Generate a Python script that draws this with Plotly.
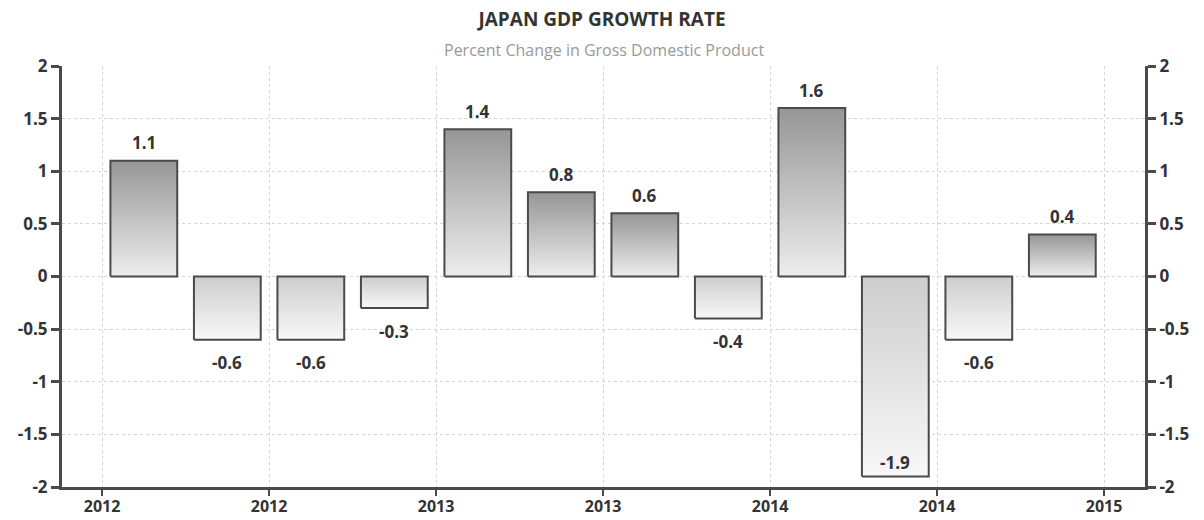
import plotly.graph_objects as go

# Quarterly GDP growth, percent change
growth = [1.1, -0.6, -0.6, -0.3, 1.4, 0.8, 0.6, -0.4, 1.6, -1.9, -0.6, 0.4]
year_ticks = ["2012", "2012", "2013", "2013", "2014", "2014", "2015"]
tick_positions = [-0.5, 1.5, 3.5, 5.5, 7.5, 9.5, 11.5]

BAR_WIDTH = 0.8
OUTLINE = "#4a4a4a"
TEXT = "#333333"
FONT = "Open Sans"

fig = go.Figure()

for i, v in enumerate(growth):
    x0, x1 = i - BAR_WIDTH / 2, i + BAR_WIDTH / 2
    lo, hi = min(0, v), max(0, v)
    if v >= 0:
        scale = [[0, "#ededed"], [1, "#969696"]]
    else:
        scale = [[0, "#f8f8f8"], [1, "#cdcdcd"]]
    fig.add_trace(go.Scatter(
        x=[x0, x1, x1, x0, x0],
        y=[lo, lo, hi, hi, lo],
        mode="lines",
        fill="toself",
        fillgradient=dict(type="vertical", colorscale=scale, start=lo, stop=hi),
        line=dict(color=OUTLINE, width=2),
        hoverinfo="skip",
        showlegend=False,
    ))
    # value label: above positive bars, below negative ones, inside if no room
    if v >= 0:
        shift = 18
    elif v < -1.7:
        shift = 14
    else:
        shift = -23
    fig.add_annotation(
        x=i, y=v, text=f"{v:g}", showarrow=False, yshift=shift,
        font=dict(family=FONT, size=17, color=TEXT, weight="bold"),
    )

# invisible trace to attach the mirrored right-hand axis
fig.add_trace(go.Scatter(x=[0], y=[0], yaxis="y2", mode="markers",
                         marker=dict(opacity=0), hoverinfo="skip", showlegend=False))

yaxis_common = dict(
    range=[-2, 2],
    tickvals=[-2, -1.5, -1, -0.5, 0, 0.5, 1, 1.5, 2],
    ticktext=["-2", "-1.5", "-1", "-0.5", "0", "0.5", "1", "1.5", "2"],
    ticks="outside", ticklen=8, tickwidth=3, tickcolor=OUTLINE,
    showline=True, linecolor=OUTLINE, linewidth=3,
    tickfont=dict(family=FONT, size=17, color=TEXT, weight="bold"),
    zeroline=False, automargin=False,
)

fig.update_layout(
    width=1204, height=520,
    margin=dict(l=62, r=59, t=66, b=33, autoexpand=False),
    paper_bgcolor="white", plot_bgcolor="white",
    title=dict(
        text="JAPAN GDP GROWTH RATE",
        x=0.5, xanchor="center", y=0.962, yanchor="middle",
        font=dict(family=FONT, size=19, color=TEXT, weight="bold"),
    ),
    xaxis=dict(
        range=[-0.98, 11.99],
        tickvals=tick_positions, ticktext=year_ticks,
        ticks="outside", ticklen=6, tickwidth=2, tickcolor=OUTLINE,
        ticklabelstandoff=-3,
        showline=True, linecolor=OUTLINE, linewidth=3,
        showgrid=True, gridcolor="#d4d4d4", griddash="dot", gridwidth=1,
        tickfont=dict(family=FONT, size=16, color=TEXT, weight="bold"),
        zeroline=False, automargin=False,
    ),
    yaxis=dict(showgrid=True, gridcolor="#d4d4d4", griddash="dot", gridwidth=1,
               **yaxis_common),
    yaxis2=dict(overlaying="y", side="right", showgrid=False, **yaxis_common),
)

fig.add_annotation(
    text="Percent Change in Gross Domestic Product",
    xref="paper", yref="paper", x=0.5, y=1.0, yshift=16,
    showarrow=False, xanchor="center", yanchor="middle",
    font=dict(family=FONT, size=16, color="#999999"),
)

fig.write_html("out.html")
